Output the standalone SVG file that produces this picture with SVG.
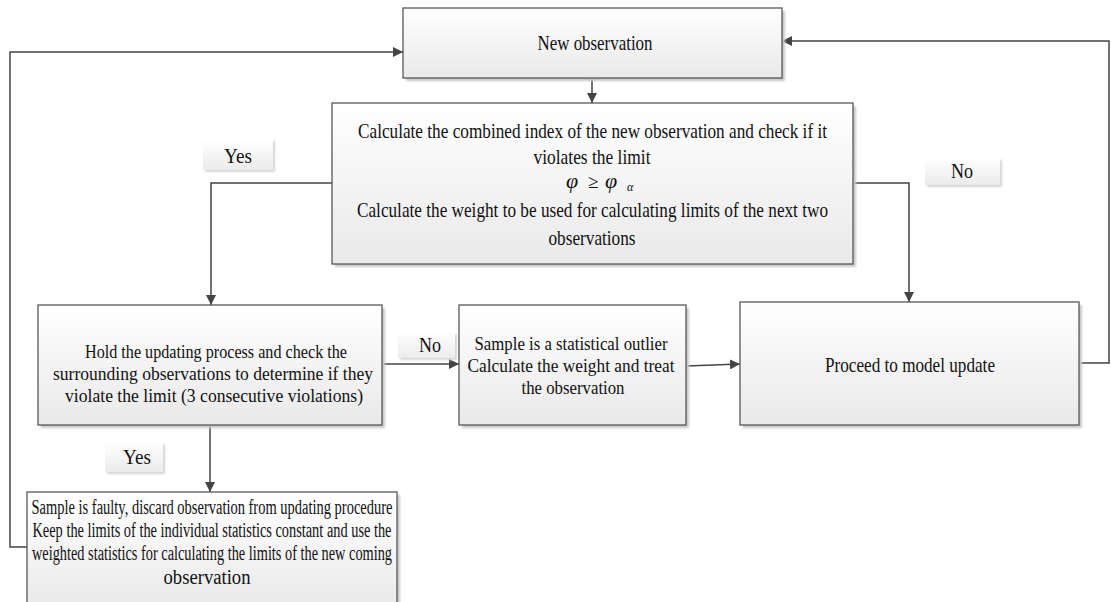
<svg xmlns="http://www.w3.org/2000/svg" width="1111" height="602" viewBox="0 0 1111 602">
  <defs>
    <linearGradient id="boxFill" x1="0" y1="0" x2="0" y2="1">
      <stop offset="0" stop-color="#ffffff"/>
      <stop offset="1" stop-color="#e9e9e9"/>
    </linearGradient>
    <linearGradient id="tagFill" x1="0" y1="0" x2="0" y2="1">
      <stop offset="0" stop-color="#ffffff"/>
      <stop offset="1" stop-color="#ebebeb"/>
    </linearGradient>
    <filter id="soft" x="-5%" y="-5%" width="110%" height="110%">
      <feGaussianBlur stdDeviation="1"/>
    </filter>
    <marker id="arrow" viewBox="0 0 10 10" refX="10" refY="5" markerWidth="10" markerHeight="10" markerUnits="userSpaceOnUse" orient="auto">
      <path d="M0,0 L10,5 L0,10 Z" fill="#444"/>
    </marker>
  </defs>
  <style>
    .box { fill: url(#boxFill); stroke: #585858; stroke-width: 1.3; }
    .shadow { fill: #c8c8c8; filter: url(#soft); }
    .tag { fill: url(#tagFill); }
    .tagshadow { fill: #d6d6d6; filter: url(#soft); }
    .t { font-family: "Liberation Serif", "Times New Roman", serif; font-size: 22px; fill: #111; text-anchor: middle; }
    .tm { font-family: "Liberation Serif", "Times New Roman", serif; font-size: 19.5px; fill: #111; text-anchor: middle; }
    .tl { font-family: "Liberation Serif", "Times New Roman", serif; font-size: 21px; fill: #111; text-anchor: middle; }
    .ts { font-family: "Liberation Serif", "Times New Roman", serif; font-size: 20px; fill: #111; text-anchor: middle; }
    .m { font-family: "Liberation Serif", "Times New Roman", serif; font-style: italic; fill: #111; }
    .link { fill: none; stroke: #444; stroke-width: 1.5; marker-end: url(#arrow); }
  </style>
  <rect width="1111" height="602" fill="#ffffff"/>

  <!-- connectors -->
  <g id="connectors">
    <path class="link" d="M592,78 L592,103"/>
    <path class="link" d="M332,183 L211,183 L211,305"/>
    <path class="link" d="M853,183 L909,183 L909,302"/>
    <path class="link" d="M382,364 L459,364"/>
    <path class="link" d="M686,366 L740,364"/>
    <path class="link" d="M1079,363 L1109,363 L1109,41 L782,41"/>
    <path class="link" d="M210,425 L210,492"/>
    <path class="link" d="M28,547 L10,547 L10,52 L403,52"/>
  </g>

  <!-- edge labels -->
  <g id="label-yes-1">
    <rect class="tagshadow" x="205" y="141" width="70" height="31"/>
    <rect class="tag" x="203" y="139" width="70" height="31"/>
    <text class="tl" x="238" y="163" textLength="28" lengthAdjust="spacingAndGlyphs">Yes</text>
  </g>
  <g id="label-no-1">
    <rect class="tagshadow" x="927" y="160" width="75" height="27"/>
    <rect class="tag" x="925" y="158" width="75" height="27"/>
    <text class="tl" x="962" y="178" textLength="22" lengthAdjust="spacingAndGlyphs">No</text>
  </g>
  <g id="label-no-2">
    <rect class="tagshadow" x="400" y="334" width="57" height="26"/>
    <rect class="tag" x="398" y="332" width="57" height="26"/>
    <text class="tl" x="430" y="352" textLength="22" lengthAdjust="spacingAndGlyphs">No</text>
  </g>
  <g id="label-yes-2">
    <rect class="tagshadow" x="107" y="444" width="58" height="30"/>
    <rect class="tag" x="105" y="442" width="58" height="30"/>
    <text class="tl" x="137" y="464" textLength="28" lengthAdjust="spacingAndGlyphs">Yes</text>
  </g>

  <!-- nodes -->
  <g id="new-observation">
    <rect class="shadow" x="406" y="11" width="379" height="70"/>
    <rect class="box" x="403" y="8" width="379" height="70"/>
    <text class="t" x="595" y="50" textLength="115" lengthAdjust="spacingAndGlyphs">New observation</text>
  </g>

  <g id="combined-index">
    <rect class="shadow" x="335" y="106" width="521" height="161"/>
    <rect class="box" x="332" y="103" width="521" height="161"/>
    <text class="t" x="592.5" y="138" textLength="469" lengthAdjust="spacingAndGlyphs">Calculate the combined index of the new observation and check if it</text>
    <text class="t" x="592" y="164" textLength="117" lengthAdjust="spacingAndGlyphs">violates the limit</text>
    <text class="m" y="188" font-size="22"><tspan x="566">φ</tspan><tspan x="588" font-style="normal" font-size="19">≥</tspan><tspan x="605">φ</tspan><tspan x="627" y="191" font-size="12">α</tspan></text>
    <text class="t" x="592.5" y="217" textLength="471" lengthAdjust="spacingAndGlyphs">Calculate the weight to be used for calculating limits of the next two</text>
    <text class="t" x="592" y="245" textLength="87" lengthAdjust="spacingAndGlyphs">observations</text>
  </g>

  <g id="hold-update">
    <rect class="shadow" x="41" y="308" width="344" height="120"/>
    <rect class="box" x="38" y="305" width="344" height="120"/>
    <text class="tm" x="216" y="358" textLength="262" lengthAdjust="spacingAndGlyphs">Hold the updating process and check the</text>
    <text class="tm" x="213" y="380" textLength="320" lengthAdjust="spacingAndGlyphs">surrounding observations to determine if they</text>
    <text class="tm" x="214" y="402" textLength="298" lengthAdjust="spacingAndGlyphs">violate the limit (3 consecutive violations)</text>
  </g>

  <g id="statistical-outlier">
    <rect class="shadow" x="462" y="308" width="227" height="120"/>
    <rect class="box" x="459" y="305" width="227" height="120"/>
    <text class="tm" x="571" y="350" textLength="193" lengthAdjust="spacingAndGlyphs">Sample is a statistical outlier</text>
    <text class="tm" x="571" y="372" textLength="207" lengthAdjust="spacingAndGlyphs">Calculate the weight and treat</text>
    <text class="tm" x="573" y="394" textLength="103" lengthAdjust="spacingAndGlyphs">the observation</text>
  </g>

  <g id="model-update">
    <rect class="shadow" x="743" y="305" width="339" height="123"/>
    <rect class="box" x="740" y="302" width="339" height="123"/>
    <text class="t" x="910" y="372" textLength="170" lengthAdjust="spacingAndGlyphs">Proceed to model update</text>
  </g>

  <g id="faulty-sample">
    <rect class="shadow" x="30" y="495" width="370" height="120"/>
    <rect class="box" x="27" y="492" width="370" height="120"/>
    <text class="ts" x="212" y="514" textLength="361" lengthAdjust="spacingAndGlyphs">Sample is faulty, discard observation from updating procedure</text>
    <text class="ts" x="212" y="537" textLength="359" lengthAdjust="spacingAndGlyphs">Keep the limits of the individual statistics constant and use the</text>
    <text class="ts" x="212" y="560" textLength="360" lengthAdjust="spacingAndGlyphs">weighted statistics for calculating the limits of the new coming</text>
    <text class="ts" x="207" y="584" textLength="87" lengthAdjust="spacingAndGlyphs">observation</text>
  </g>
</svg>
